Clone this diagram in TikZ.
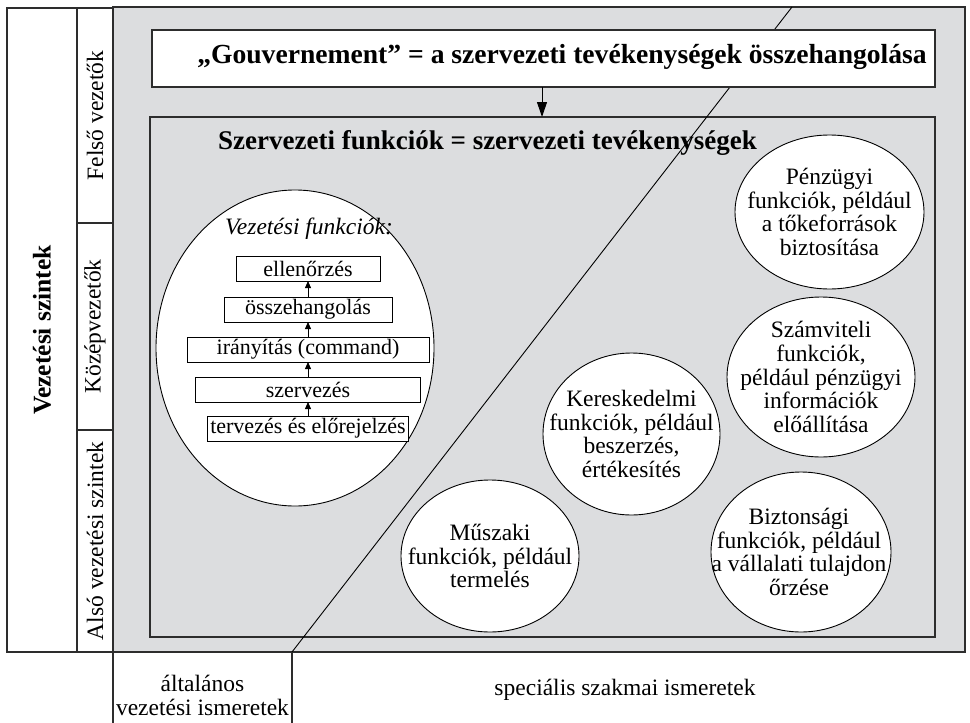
\documentclass[tikz,border=0pt]{standalone}
\usepackage{fontspec}
\setmainfont{Liberation Serif}
\usetikzlibrary{arrows.meta,shapes.geometric}
\definecolor{panelgray}{RGB}{220,221,223}
\definecolor{rulecol}{RGB}{45,45,45}
\newcommand{\fsz}[2]{\fontsize{#1}{#2}\selectfont}
\begin{document}
\begin{tikzpicture}[x=1pt,y=-1pt,
  every node/.style={inner sep=0pt,outer sep=0pt},
  cell/.style={draw=rulecol,line width=1.1pt,rectangle,anchor=north west},
  plaintext/.style={font=\fsz{23.5}{24},align=center},
  boldtitle/.style={font=\bfseries\fsz{27}{30}},
  bubble/.style={ellipse,draw=black,line width=0.9pt,fill=white},
  bubbletext/.style={font=\fsz{23.5}{23.8},align=center},
  fnbox/.style={draw=black,line width=0.9pt,fill=white,minimum height=25pt,font=\fsz{22}{24}},
  smalltip/.style={-{Triangle[length=7pt,width=6pt]},line width=0.8pt},
  bigtip/.style={-{Triangle[length=15pt,width=10pt]},line width=1pt}
]
\useasboundingbox (0,0) rectangle (970,723);

% grey working area
\node[cell,fill=panelgray,minimum width=852pt,minimum height=645pt] (panel) at (113,7) {};

% management levels on the left
\node[cell,fill=white,minimum width=70pt,minimum height=644pt] (levels) at (7,8) {};
\node[cell,fill=white,minimum width=36pt,minimum height=215pt] (top) at (77,8) {};
\node[cell,fill=white,minimum width=36pt,minimum height=207pt] (mid) at (77,223) {};
\node[cell,fill=white,minimum width=36pt,minimum height=222pt] (low) at (77,430) {};
\node[rotate=90,font=\bfseries\fsz{25.5}{28}] (levelstext) at (levels.center) {Vezetési szintek};
\node[rotate=90,plaintext] (toptext) at (top.center) {Felső vezetők};
\node[rotate=90,plaintext] (midtext) at (mid.center) {Középvezetők};
\node[rotate=90,plaintext] (lowtext) at (low.center) {Alsó vezetési szintek};

% knowledge types along the bottom
\coordinate (genL) at (113,652);
\coordinate (genR) at (292,652);
\coordinate (genLb) at (113,723);
\coordinate (genRb) at (292,723);
\draw[draw=rulecol,line width=1.1pt] (genL) -- (genLb);
\draw[draw=rulecol,line width=1.1pt] (genR) -- (genRb);
\node[plaintext] (general) at (202.5,695) {általános\\vezetési ismeretek};
\node[plaintext] (special) at (625,690) {speciális szakmai ismeretek};

% organisational functions frame
\node[cell,fill=panelgray,minimum width=785pt,minimum height=520pt] (inner) at (150,117) {};
\node[boldtitle] (innertitle) at (487.5,143) {Szervezeti funkciók = szervezeti tevékenységek};

% boundary between general and specialised knowledge
\coordinate (splitlow) at (292,652);
\coordinate (splithigh) at (792,7);
\draw[line width=0.9pt] (splitlow) -- (splithigh);

% governance box
\node[cell,fill=white,minimum width=783pt,minimum height=57pt] (gov) at (152,30) {};
\node[font=\bfseries\fsz{27.6}{30}] (govtext) at (562,57) {„Gouvernement” = a szervezeti tevékenységek összehangolása};
\coordinate (govx) at (542,0);
\draw[bigtip] (gov.south -| govx) -- (inner.north -| govx);

% management functions
\node[bubble,minimum width=278pt,minimum height=316pt] (vf) at (295,348) {};
\node[font=\itshape\fsz{23.5}{24}] (vftitle) at (309,229) {Vezetési funkciók:};
\node[fnbox,minimum width=144pt] (ell) at (308,268.5) {ellenőrzés};
\node[fnbox,minimum width=168pt] (ossz) at (308,309.5) {összehangolás};
\node[fnbox,minimum width=242pt] (iran) at (308,349.5) {irányítás (command)};
\node[fnbox,minimum width=225pt] (szerv) at (308,389.5) {szervezés};
\node[fnbox,minimum width=201pt] (terv) at (308,428.5) {tervezés és előrejelzés};
\draw[smalltip] (terv.north) -- (szerv.south);
\draw[smalltip] (szerv.north) -- (iran.south);
\draw[smalltip] (iran.north) -- (ossz.south);
\draw[smalltip] (ossz.north) -- (ell.south);

% specialised functions
\node[bubble,minimum width=189pt,minimum height=154pt] (penz) at (829.5,212) {};
\node[bubbletext] (penztext) at (penz.center) {Pénzügyi\\funkciók, például\\a tőkeforrások\\biztosítása};
\node[bubble,minimum width=188pt,minimum height=160pt] (szamv) at (821,377) {};
\node[bubbletext] (szamvtext) at (szamv.center) {Számviteli\\funkciók,\\például pénzügyi\\információk\\előállítása};
\node[bubble,minimum width=177pt,minimum height=162pt] (ker) at (631.5,434) {};
\node[bubbletext] (kertext) at (ker.center) {Kereskedelmi\\funkciók, például\\beszerzés,\\értékesítés};
\node[bubble,minimum width=178pt,minimum height=152pt] (musz) at (490,556) {};
\node[bubbletext] (musztext) at (musz.center) {Műszaki\\funkciók, például\\termelés};
\node[bubble,minimum width=180pt,minimum height=160pt] (bizt) at (801,552) {};
\node[bubbletext] (bizttext) at ([xshift=-2pt]bizt.center) {Biztonsági\\funkciók, például\\a vállalati tulajdon\\őrzése};
\end{tikzpicture}
\end{document}
